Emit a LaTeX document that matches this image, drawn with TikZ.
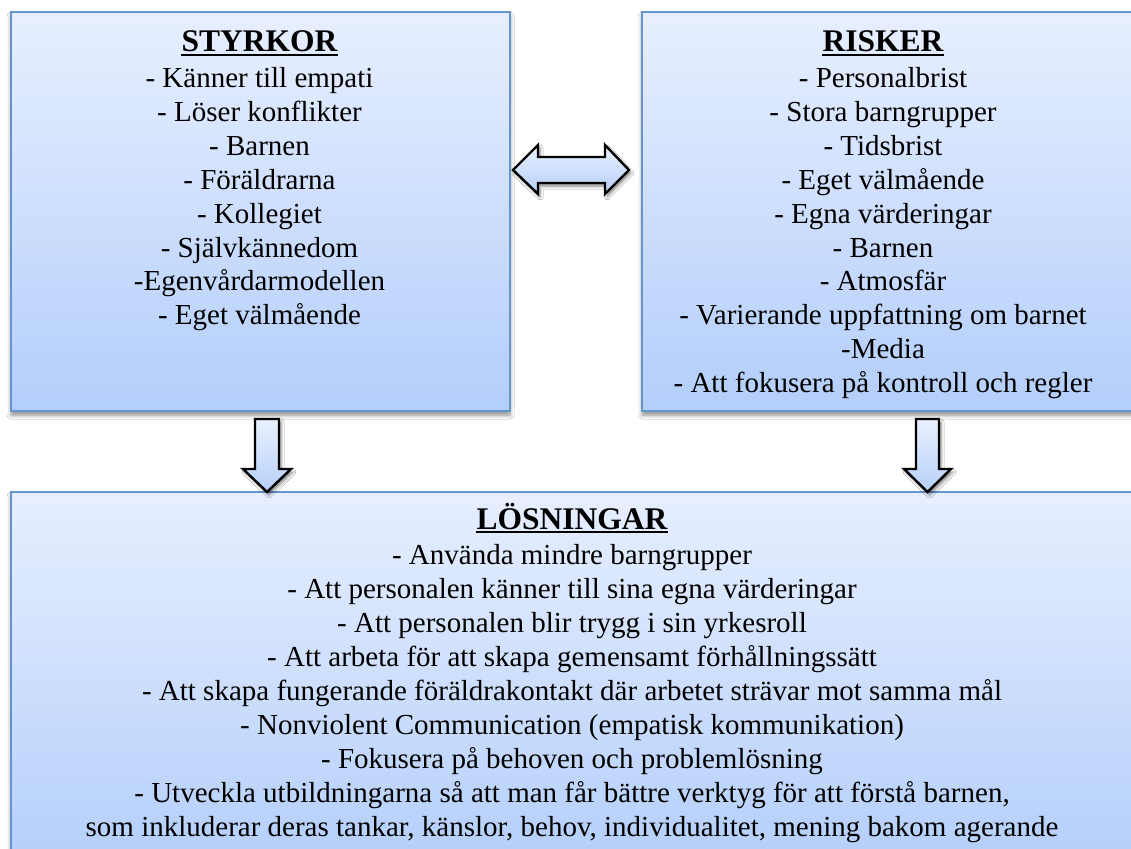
\documentclass[tikz,border=0pt]{standalone}
\usepackage{fontspec}
\setmainfont{Liberation Serif}
\usetikzlibrary{shadows.blur}
\definecolor{boxtop}{HTML}{E7EFFF}
\definecolor{boxbot}{HTML}{B3CEFA}
\definecolor{boxedge}{HTML}{6694CC}
\definecolor{arrtop}{HTML}{EAF1FF}
\definecolor{arrbot}{HTML}{B5CFF8}
\begin{document}
\begin{tikzpicture}[x=1pt,y=-1pt,
  panel/.style={rectangle, draw=boxedge, line width=2.2pt, top color=boxtop, bottom color=boxbot,
    anchor=north west, inner sep=0pt,
    blur shadow={shadow xshift=0pt, shadow yshift=-4pt, shadow blur radius=4pt, shadow opacity=45}},
  blockarrow/.style={draw=black, line width=2.4pt, line join=miter, top color=arrtop, bottom color=arrbot,
    blur shadow={shadow xshift=2pt, shadow yshift=-3pt, shadow blur radius=3pt, shadow opacity=50}},
  titletext/.style={anchor=base, inner sep=0pt, font=\fontsize{31.5}{38}\selectfont\bfseries},
  bodytext/.style={anchor=base, inner sep=0pt, font=\fontsize{29}{34}\selectfont},
  uline/.style={line width=2pt}]
\useasboundingbox (0,0) rectangle (1131,848);
\fill[white] (0,0) rectangle (1131,848);

% boxes
\node[panel, minimum width=499pt, minimum height=399pt] (L) at (10,11) {};
\node[panel, minimum width=520pt, minimum height=399pt] (R) at (641,11) {};
\node[panel, minimum width=1140pt, minimum height=380pt] (B) at (10,491) {};

% arrows
\filldraw[blockarrow] (513,170) -- (538,145) -- (538,157) -- (605,157) -- (605,145) -- (629,170)
  -- (605,194) -- (605,183) -- (538,183) -- (538,194) -- cycle;
\filldraw[blockarrow] (255,419) -- (279,419) -- (279,469) -- (291,469) -- (267,492) -- (243,469)
  -- (255,469) -- cycle;
\filldraw[blockarrow] (916,419) -- (939,419) -- (939,469) -- (951,469) -- (927.5,492) -- (904,469)
  -- (916,469) -- cycle;

% titles
\node[titletext] (tL) at (259.5,52) {STYRKOR};
\draw[uline] ([yshift=-3pt]tL.base west) -- ([yshift=-3pt]tL.base east);
\node[titletext] (tR) at (883,52) {RISKER};
\draw[uline] ([yshift=-3pt]tR.base west) -- ([yshift=-3pt]tR.base east);
\node[titletext] (tB) at (572,529) {LÖSNINGAR};
\draw[uline] ([yshift=-3pt]tB.base west) -- ([yshift=-3pt]tB.base east);

% left list
\foreach \t [count=\i] in {{- Känner till empati},{- Löser konflikter},{- Barnen},{- Föräldrarna},
  {- Kollegiet},{- Självkännedom},{-Egenvårdarmodellen},{- Eget välmående}}
  \node[bodytext] (l\i) at (259.5,{87.5+33.9*(\i-1)}) {\t};

% right list
\foreach \t [count=\i] in {{- Personalbrist},{- Stora barngrupper},{- Tidsbrist},{- Eget välmående},
  {- Egna värderingar},{- Barnen},{- Atmosfär},{- Varierande uppfattning om barnet},{-Media},
  {- Att fokusera på kontroll och regler}}
  \node[bodytext] (r\i) at (883,{87.5+33.9*(\i-1)}) {\t};

% bottom list
\foreach \t [count=\i] in {{- Använda mindre barngrupper},
  {- Att personalen känner till sina egna värderingar},
  {- Att personalen blir trygg i sin yrkesroll},
  {- Att arbeta för att skapa gemensamt förhållningssätt},
  {- Att skapa fungerande föräldrakontakt där arbetet strävar mot samma mål},
  {- Nonviolent Communication (empatisk kommunikation)},
  {- Fokusera på behoven och problemlösning},
  {- Utveckla utbildningarna så att man får bättre verktyg för att förstå barnen,},
  {som inkluderar deras tankar, känslor, behov, individualitet, mening bakom agerande}}
  \node[bodytext] (b\i) at (572,{564+34*(\i-1)}) {\t};
\end{tikzpicture}
\end{document}
